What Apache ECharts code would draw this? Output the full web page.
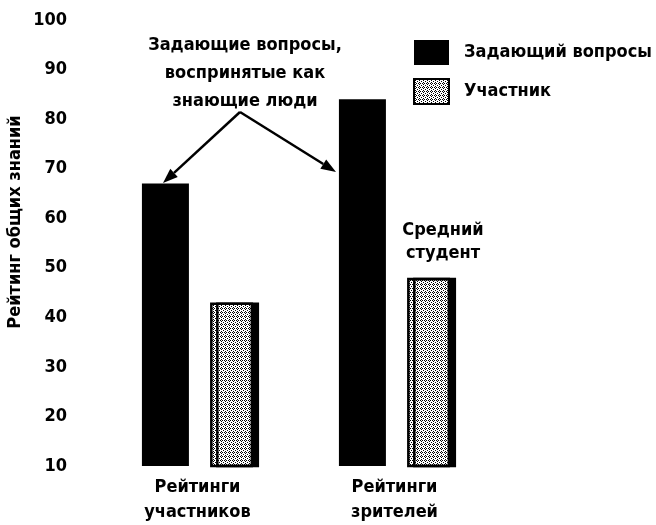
<!DOCTYPE html>
<html>
<head>
<meta charset="utf-8">
<script src="https://cdn.jsdelivr.net/npm/echarts@6/dist/echarts.min.js"></script>
<style>
  html, body { margin: 0; padding: 0; background: #fff; }
  #chart { width: 656px; height: 525px; }
</style>
</head>
<body>
<div id="chart"></div>
<script>
const categories = ["Рейтинги\nучастников", "Рейтинги\nзрителей"];
const askerValues = [67, 84];
const participantValues = [43, 48];
const seriesNames = ["Задающий вопросы", "Участник"];

const FONT = '"DejaVu Sans Condensed", "Liberation Sans Narrow", sans-serif';
const FS = 18;

// stipple texture for the participant bars
function makeStipple() {
  const c = document.createElement("canvas");
  c.width = 4;
  c.height = 4;
  const ctx = c.getContext("2d");
  ctx.fillStyle = "#fff";
  ctx.fillRect(0, 0, 4, 4);
  ctx.fillStyle = "#000";
  [[0, 0], [2, 0], [1, 1], [3, 2], [1, 3]].forEach(function (p) {
    ctx.fillRect(p[0], p[1], 1, 1);
  });
  return c;
}
const stipple = makeStipple();

// arrow = line + filled head
function arrow(x1, y1, x2, y2) {
  const ang = Math.atan2(y2 - y1, x2 - x1);
  const len = 15, half = 5.5;
  const bx = x2 - len * Math.cos(ang), by = y2 - len * Math.sin(ang);
  const px = -Math.sin(ang) * half, py = Math.cos(ang) * half;
  return [
    { type: "line", shape: { x1: x1, y1: y1, x2: bx, y2: by },
      style: { stroke: "#000", lineWidth: 2.5 } },
    { type: "polygon", shape: { points: [[x2, y2], [bx + px, by + py], [bx - px, by - py]] },
      style: { fill: "#000" } }
  ];
}

const chart = echarts.init(document.getElementById("chart"));

const option = {
  backgroundColor: "#fff",
  animation: false,
  textStyle: { fontFamily: FONT, color: "#000", fontWeight: "bold" },
  grid: { left: 99, right: 163, top: 20, bottom: 58 },
  legend: {
    orient: "vertical",
    left: 413,
    top: 40,
    padding: 0,
    itemWidth: 35,
    itemHeight: 25,
    itemGap: 13,
    icon: "rect",
    textStyle: { fontFamily: FONT, fontSize: FS, fontWeight: "bold", color: "#000", padding: [0, 0, 0, 10] },
    data: seriesNames
  },
  xAxis: {
    type: "category",
    data: categories,
    axisLine: { show: false },
    axisTick: { show: false },
    axisLabel: { fontFamily: FONT, fontSize: FS, fontWeight: "bold", color: "#000", lineHeight: 25, margin: 9 }
  },
  yAxis: {
    type: "value",
    min: 10,
    max: 100,
    interval: 10,
    axisLine: { show: false },
    axisTick: { show: false },
    splitLine: { show: false },
    axisLabel: { fontFamily: FONT, fontSize: FS, fontWeight: "bold", color: "#000", margin: 32 }
  },
  series: [
    {
      name: seriesNames[0],
      type: "bar",
      data: askerValues,
      barWidth: 47,
      barGap: "45%",
      itemStyle: { color: "#000" }
    },
    {
      name: seriesNames[1],
      type: "bar",
      data: participantValues,
      barWidth: 43,
      itemStyle: {
        color: { image: stipple, repeat: "repeat" },
        borderColor: "#000",
        borderWidth: 2.5,
        shadowColor: "#000",
        shadowBlur: 0.1,
        shadowOffsetX: 6,
        shadowOffsetY: 0
      }
    }
  ],
  graphic: [
    {
      type: "text",
      x: 15,
      y: 222,
      rotation: Math.PI / 2,
      style: {
        text: "Рейтинг общих знаний",
        font: "bold " + FS + "px " + FONT,
        fill: "#000",
        align: "center",
        verticalAlign: "middle"
      }
    },
    {
      type: "text",
      x: 245,
      y: 31,
      style: {
        text: "Задающие вопросы,\nвоспринятые как\nзнающие люди",
        font: "bold " + FS + "px " + FONT,
        fill: "#000",
        align: "center",
        lineHeight: 28
      }
    },
    {
      type: "text",
      x: 443,
      y: 219,
      style: {
        text: "Средний\nстудент",
        font: "bold " + FS + "px " + FONT,
        fill: "#000",
        align: "center",
        lineHeight: 23
      }
    }
  ].concat(arrow(240, 112, 163, 183), arrow(240, 112, 336, 172))
};

chart.setOption(option);
</script>
</body>
</html>
